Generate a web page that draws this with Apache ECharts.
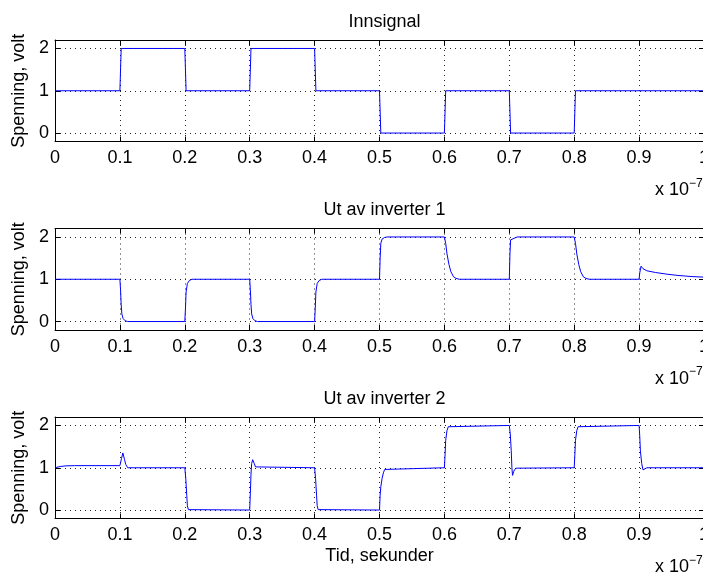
<!DOCTYPE html>
<html>
<head>
<meta charset="utf-8">
<script src="https://cdn.jsdelivr.net/npm/echarts@6/dist/echarts.min.js"></script>
<style>
html,body{margin:0;padding:0;background:#fff;}
#c{width:703px;height:575px;}
</style>
</head>
<body>
<div id="c"></div>
<script>
// Time in units of 1e-7 s, voltage in volt
const titles = ['Innsignal', 'Ut av inverter 1', 'Ut av inverter 2'];
const yTicks = [0, 1, 2];
const xTickStep = 0.1;

const innsignal = [
  [0,1],[0.1,1],[0.102,2],[0.2,2],[0.202,1],[0.3,1],[0.302,2],[0.4,2],[0.402,1],
  [0.5,1],[0.502,0],[0.6,0],[0.602,1],[0.7,1],[0.702,0],[0.8,0],[0.802,1],[1,1]
];

const inverter1 = [
  [0,1],[0.1,1],[0.101,0.75],[0.102,0.4],[0.103,0.18],[0.105,0.07],[0.108,0.02],[0.112,0],
  [0.2,0],[0.201,0.3],[0.202,0.7],[0.204,0.9],[0.207,0.97],[0.211,1],
  [0.3,1],[0.301,0.75],[0.302,0.4],[0.303,0.18],[0.305,0.07],[0.308,0.02],[0.312,0],
  [0.4,0],[0.401,0.3],[0.402,0.7],[0.404,0.9],[0.407,0.97],[0.411,1],
  [0.5,1],[0.501,1.5],[0.502,1.85],[0.504,1.95],[0.508,1.99],[0.512,2],
  [0.6,2],[0.602,1.85],[0.604,1.6],[0.607,1.35],[0.61,1.18],[0.614,1.06],[0.618,1.02],[0.623,1],
  [0.7,1],[0.701,1.6],[0.702,1.93],[0.705,1.97],[0.712,2],
  [0.8,2],[0.802,1.85],[0.804,1.6],[0.807,1.35],[0.81,1.18],[0.814,1.06],[0.818,1.02],[0.823,1],
  [0.9,1],[0.901,1.15],[0.903,1.31],[0.906,1.25],[0.912,1.2],[0.925,1.16],[0.943,1.12],
  [0.96,1.09],[0.98,1.065],[1,1.05]
];

const inverter2 = [
  [0,1],[0.008,1.03],[0.017,1.045],[0.03,1.05],[0.1,1.05],
  [0.1025,1.22],[0.1046,1.35],[0.107,1.2],[0.109,1.08],[0.112,1],
  [0.2,1],[0.2015,0.75],[0.203,0.35],[0.204,0.1],[0.2055,0.01],[0.207,0],
  [0.3,0],[0.301,0.4],[0.302,0.85],[0.303,1.1],[0.3046,1.19],[0.307,1.1],[0.309,1.02],[0.312,1],
  [0.4,1],[0.4015,0.75],[0.403,0.35],[0.404,0.1],[0.4055,0.01],[0.407,0],
  [0.5,0],[0.501,0.35],[0.502,0.55],[0.504,0.75],[0.506,0.88],[0.508,0.96],[0.511,1],
  [0.6,1],[0.601,1.3],[0.602,1.65],[0.604,1.88],[0.606,1.97],[0.609,2],
  [0.7,2],[0.7015,1.8],[0.703,1.4],[0.704,1.0],[0.705,0.82],[0.707,0.92],[0.71,0.99],[0.713,1],
  [0.8,1],[0.801,1.3],[0.802,1.65],[0.804,1.88],[0.806,1.97],[0.809,2],
  [0.9,2],[0.901,1.75],[0.902,1.4],[0.904,1.1],[0.906,0.95],[0.909,0.99],[0.912,1],
  [1,1]
];

const seriesData = [innsignal, inverter1, inverter2];

const FONT = 'Liberation Sans, Arial, Helvetica, sans-serif';
const gridTops = [40, 228.5, 417];
const gridH = 101.5;

const grids = [], xAxes = [], yAxes = [], series = [], title = [], graphic = [];
gridTops.forEach((top, i) => {
  grids.push({left: 55, width: 649, top: top, height: gridH, containLabel: false,
    outerBoundsMode: 'none'});
  const dotted = {show: true, lineStyle: {color: '#222', width: 1, type: [1, 4]}};
  xAxes.push({
    type: 'value', gridIndex: i, position: 'bottom', min: 0, max: 1, interval: xTickStep,
    axisLine: {show: true, onZero: false, lineStyle: {color: '#000', width: 1}},
    axisTick: {show: true, inside: true, length: 5, lineStyle: {color: '#000'}},
    axisLabel: {color: '#000', fontSize: 18, fontFamily: FONT, margin: 8,
      formatter: v => String(+v.toFixed(1))},
    splitLine: dotted,
    name: i === 2 ? 'Tid, sekunder' : '',
    nameLocation: 'middle', nameGap: 29,
    nameTextStyle: {color: '#000', fontSize: 18, fontFamily: FONT}
  });
  xAxes.push({
    type: 'value', gridIndex: i, position: 'top', min: 0, max: 1, interval: xTickStep,
    axisLine: {show: true, onZero: false, lineStyle: {color: '#000', width: 1}},
    axisTick: {show: true, inside: true, length: 5, lineStyle: {color: '#000'}},
    axisLabel: {show: false}, splitLine: {show: false}
  });
  yAxes.push({
    type: 'value', gridIndex: i, position: 'left', min: -0.2, max: 2.2,
    axisLine: {show: true, onZero: false, lineStyle: {color: '#000', width: 1}},
    axisTick: {show: true, inside: true, length: 5, customValues: yTicks, lineStyle: {color: '#000'}},
    axisLabel: {color: '#000', fontSize: 18, fontFamily: FONT, margin: 6, customValues: yTicks},
    splitLine: dotted,
    name: 'Spenning, volt', nameLocation: 'middle', nameGap: 25,
    nameTextStyle: {color: '#000', fontSize: 18, fontFamily: FONT}
  });
  yAxes.push({
    type: 'value', gridIndex: i, position: 'right', min: -0.2, max: 2.2,
    axisLine: {show: true, onZero: false, lineStyle: {color: '#000', width: 1}},
    axisTick: {show: true, inside: true, length: 5, customValues: yTicks, lineStyle: {color: '#000'}},
    axisLabel: {show: false, customValues: yTicks}, splitLine: {show: false}
  });
  series.push({
    type: 'line', xAxisIndex: i * 2, yAxisIndex: i * 2, data: seriesData[i],
    showSymbol: false, symbol: 'none', clip: true,
    lineStyle: {color: '#0000ff', width: 1}
  });
  title.push({
    text: titles[i], left: 379.5, top: top - 32, textAlign: 'center',
    textStyle: {color: '#000', fontSize: 18, fontWeight: 'normal', fontFamily: FONT}
  });
  const by = top + gridH;
  graphic.push({type: 'text', x: 655, y: by + 49, style: {text: 'x 10', fill: '#000',
    font: '18px ' + FONT, textVerticalAlign: 'middle'}});
  graphic.push({type: 'text', x: 689, y: by + 42, style: {text: '\u22127', fill: '#000',
    font: '12px ' + FONT, textVerticalAlign: 'middle'}});
});

const chart = echarts.init(document.getElementById('c'), null, {renderer: 'canvas'});
chart.setOption({
  animation: false,
  backgroundColor: '#fff',
  title: title,
  grid: grids,
  xAxis: xAxes,
  yAxis: yAxes,
  series: series,
  graphic: graphic
});
</script>
</body>
</html>
